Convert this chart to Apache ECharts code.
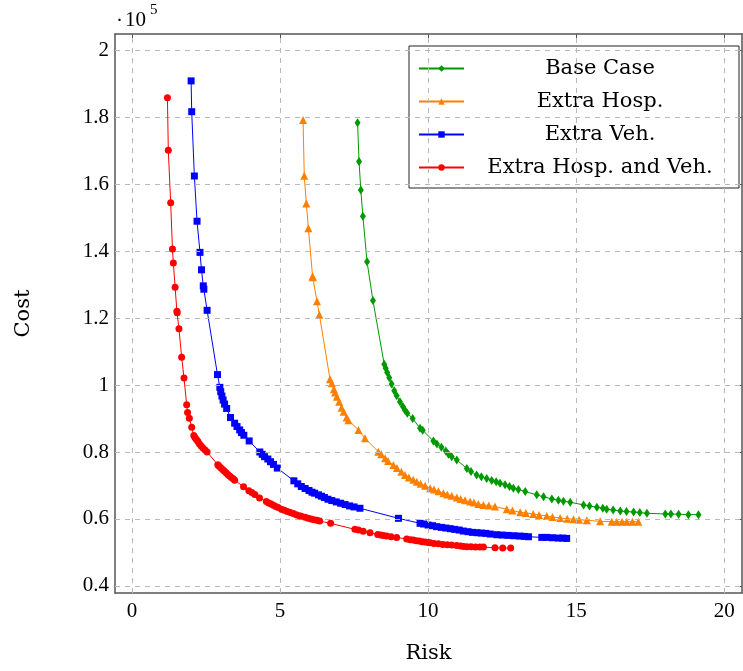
<!DOCTYPE html>
<html>
<head>
<meta charset="utf-8">
<script src="https://cdn.jsdelivr.net/npm/echarts@6/dist/echarts.min.js"></script>
<style>html,body{margin:0;padding:0;background:#fff}#c{width:743px;height:671px}</style>
</head>
<body>
<div id="c"></div>
<script>
// Tick values
const xTicks = [0, 5, 10, 15, 20];
const yTicks = [0.4, 0.6, 0.8, 1.0, 1.2, 1.4, 1.6, 1.8, 2.0];

// Base Case (risk, cost in units of 1e5)
const baseRisk = [7.62,7.67,7.73,7.80,7.94,8.14,8.52,8.57,8.62,8.69,8.77,8.86,8.94,9.05,9.15,9.22,9.30,9.48,9.73,9.82,10.18,10.30,10.45,10.60,10.69,10.80,10.97,11.31,11.45,11.64,11.80,11.98,12.15,12.30,12.43,12.60,12.75,12.88,13.05,13.28,13.67,13.90,14.18,14.40,14.57,14.80,15.25,15.45,15.70,15.90,16.03,16.25,16.49,16.70,16.94,17.15,17.39,18.01,18.20,18.46,18.79,19.13];
const baseCost = [1.783,1.667,1.582,1.504,1.368,1.252,1.062,1.050,1.037,1.022,1.003,0.983,0.968,0.950,0.936,0.925,0.916,0.900,0.871,0.865,0.833,0.824,0.814,0.803,0.793,0.786,0.776,0.751,0.742,0.731,0.726,0.721,0.715,0.711,0.707,0.702,0.697,0.692,0.688,0.682,0.672,0.666,0.660,0.656,0.653,0.650,0.642,0.639,0.635,0.632,0.629,0.627,0.624,0.622,0.621,0.619,0.617,0.615,0.615,0.614,0.613,0.613];

// Extra Hosp.
const hospRisk = [5.78,5.82,5.89,5.96,6.10,6.11,6.25,6.33,6.69,6.75,6.82,6.86,6.92,7.00,7.08,7.15,7.25,7.31,7.65,7.87,8.32,8.42,8.55,8.65,8.83,8.95,9.10,9.22,9.35,9.50,9.62,9.75,9.90,10.07,10.20,10.35,10.52,10.65,10.80,10.97,11.10,11.25,11.42,11.55,11.70,11.87,12.05,12.26,12.66,12.85,13.11,13.30,13.55,13.75,14.01,14.20,14.46,14.70,14.91,15.10,15.36,15.81,16.20,16.37,16.55,16.71,16.90,17.10];
const hospCost = [1.791,1.625,1.542,1.468,1.325,1.322,1.250,1.210,1.017,1.005,0.987,0.978,0.965,0.950,0.932,0.920,0.903,0.895,0.866,0.841,0.801,0.793,0.781,0.773,0.761,0.752,0.741,0.731,0.724,0.717,0.711,0.705,0.699,0.692,0.688,0.683,0.677,0.673,0.669,0.664,0.660,0.656,0.652,0.649,0.645,0.642,0.640,0.637,0.629,0.625,0.620,0.618,0.615,0.612,0.609,0.606,0.603,0.601,0.599,0.598,0.596,0.593,0.592,0.592,0.592,0.592,0.592,0.592];

// Extra Veh.
const vehRisk = [2.00,2.02,2.11,2.20,2.30,2.35,2.41,2.43,2.54,2.89,2.97,3.00,3.04,3.08,3.13,3.20,3.33,3.47,3.55,3.64,3.70,3.78,3.96,4.32,4.40,4.48,4.59,4.68,4.78,4.91,5.47,5.60,5.72,5.85,5.98,6.08,6.17,6.30,6.40,6.50,6.62,6.75,6.90,7.05,7.20,7.35,7.50,7.70,9.00,9.73,9.85,10.00,10.15,10.29,10.45,10.60,10.75,10.90,11.05,11.19,11.35,11.50,11.65,11.80,11.95,12.10,12.32,12.50,12.70,12.90,13.10,13.25,13.39,13.84,14.00,14.20,14.40,14.55,14.68];
const vehCost = [1.908,1.816,1.624,1.489,1.396,1.344,1.296,1.286,1.223,1.031,0.993,0.980,0.967,0.955,0.943,0.930,0.903,0.886,0.876,0.866,0.858,0.850,0.833,0.800,0.793,0.786,0.779,0.771,0.763,0.752,0.714,0.705,0.697,0.691,0.685,0.680,0.677,0.672,0.668,0.664,0.659,0.655,0.651,0.647,0.643,0.639,0.636,0.632,0.602,0.587,0.585,0.582,0.580,0.577,0.575,0.573,0.571,0.569,0.567,0.564,0.562,0.560,0.559,0.558,0.557,0.555,0.553,0.552,0.551,0.550,0.549,0.548,0.547,0.545,0.545,0.544,0.543,0.543,0.542];

// Extra Hosp. and Veh.
const bothRisk = [1.20,1.23,1.31,1.37,1.40,1.46,1.52,1.53,1.59,1.68,1.76,1.85,1.88,1.94,2.02,2.09,2.13,2.18,2.23,2.28,2.34,2.40,2.47,2.54,2.90,2.94,3.00,3.06,3.12,3.18,3.24,3.30,3.36,3.42,3.47,3.77,3.95,4.05,4.15,4.31,4.54,4.62,4.70,4.78,4.86,4.94,5.05,5.15,5.25,5.35,5.45,5.55,5.65,5.72,5.85,5.95,6.05,6.15,6.25,6.34,6.71,7.53,7.65,7.81,8.04,8.30,8.40,8.49,8.60,8.75,8.94,9.28,9.40,9.50,9.60,9.70,9.80,9.90,10.00,10.07,10.20,10.35,10.50,10.65,10.80,10.97,11.10,11.20,11.31,11.45,11.60,11.75,11.87,12.26,12.52,12.79];
const bothCost = [1.858,1.701,1.544,1.406,1.364,1.292,1.220,1.216,1.168,1.083,1.021,0.941,0.918,0.901,0.874,0.849,0.843,0.837,0.831,0.824,0.818,0.812,0.806,0.800,0.762,0.758,0.753,0.748,0.743,0.738,0.733,0.728,0.724,0.720,0.716,0.696,0.684,0.679,0.673,0.663,0.652,0.648,0.645,0.641,0.637,0.634,0.629,0.626,0.622,0.619,0.616,0.613,0.610,0.608,0.605,0.602,0.600,0.598,0.596,0.594,0.587,0.569,0.567,0.563,0.559,0.554,0.552,0.551,0.549,0.547,0.545,0.540,0.538,0.537,0.535,0.534,0.532,0.531,0.530,0.529,0.527,0.526,0.524,0.523,0.522,0.521,0.519,0.518,0.517,0.517,0.516,0.516,0.516,0.514,0.513,0.513];

const names = ['Base Case', 'Extra Hosp.', 'Extra Veh.', 'Extra Hosp. and Veh.'];
const colors = ['#009900', '#ff8000', '#0000ff', '#ff0000'];

function zip(a, b) { return a.map((v, i) => [v, b[i]]); }

const SERIF = 'DejaVu Serif';
const NUMF = 'Liberation Serif';
const axisColor = '#555';
const XMIN = -0.57, XMAX = 20.6, YMIN = 0.379, YMAX = 2.048;

const chart = echarts.init(document.getElementById('c'), null, {renderer: 'canvas'});

function fmt(v) { return String(+(+v).toFixed(1)); }

const gridLines = [];
xTicks.forEach(v => gridLines.push({xAxis: v}));
yTicks.forEach(v => gridLines.push({yAxis: v}));

const option = {
  animation: false,
  backgroundColor: '#fff',
  grid: {left: 115, right: 1, top: 34, bottom: 78, containLabel: false},
  xAxis: [{
    type: 'value', min: XMIN, max: XMAX, position: 'bottom',
    name: 'Risk', nameLocation: 'middle', nameGap: 50,
    nameTextStyle: {fontFamily: SERIF, fontSize: 21, color: '#000'},
    axisLine: {show: true, onZero: false, lineStyle: {color: axisColor, width: 1.5}},
    axisTick: {show: true, inside: true, length: 5, customValues: xTicks, lineStyle: {color: axisColor}},
    axisLabel: {customValues: xTicks, formatter: fmt, fontFamily: NUMF, fontSize: 21, color: '#000', margin: 8},
    splitLine: {show: false}
  }, {
    type: 'value', min: XMIN, max: XMAX, position: 'top',
    axisLine: {show: true, onZero: false, lineStyle: {color: axisColor, width: 1.5}},
    axisTick: {show: true, inside: true, length: 5, customValues: xTicks, lineStyle: {color: axisColor}},
    axisLabel: {show: false},
    splitLine: {show: false}
  }],
  yAxis: [{
    type: 'value', min: YMIN, max: YMAX, position: 'left',
    name: 'Cost', nameLocation: 'middle', nameGap: 81, nameRotate: 90,
    nameTextStyle: {fontFamily: SERIF, fontSize: 21, color: '#000'},
    axisLine: {show: true, onZero: false, lineStyle: {color: axisColor, width: 1.5}},
    axisTick: {show: true, inside: true, length: 5, customValues: yTicks, lineStyle: {color: axisColor}},
    axisLabel: {customValues: yTicks, formatter: fmt, fontFamily: NUMF, fontSize: 21, color: '#000', margin: 6},
    splitLine: {show: false}
  }, {
    type: 'value', min: YMIN, max: YMAX, position: 'right',
    axisLine: {show: true, onZero: false, lineStyle: {color: axisColor, width: 1.5}},
    axisTick: {show: true, inside: true, length: 5, customValues: yTicks, lineStyle: {color: axisColor}},
    axisLabel: {show: false},
    splitLine: {show: false}
  }],
  legend: {
    data: names,
    orient: 'vertical',
    right: 4, top: 46,
    backgroundColor: '#fff',
    borderColor: '#222', borderWidth: 1, borderRadius: 0,
    padding: [12, 8, 10, 9],
    itemGap: 12, itemWidth: 45, itemHeight: 8,
    formatter: function (name) { return '{t|' + name + '}'; },
    textStyle: {
      fontFamily: SERIF, fontSize: 21, color: '#000',
      rich: {t: {fontFamily: SERIF, fontSize: 21, color: '#000', lineHeight: 25, width: 262, align: 'center'}}
    },
    selectedMode: false
  },
  graphic: [
    {type: 'text', left: 116, top: 11, z: 10, style: {text: '·', fontFamily: NUMF, fontSize: 21, fill: '#000'}},
    {type: 'text', left: 125, top: 10, z: 10, style: {text: '10', fontFamily: NUMF, fontSize: 21, fill: '#000'}},
    {type: 'text', left: 150, top: 3, z: 10, style: {text: '5', fontFamily: NUMF, fontSize: 15, fill: '#000'}}
  ],
  series: [
    {
      name: '_grid', type: 'line', data: [], silent: true, z: 0,
      markLine: {
        silent: true, symbol: 'none', animation: false,
        label: {show: false},
        lineStyle: {type: [5, 5], color: '#b8b8b8', width: 1},
        emphasis: {disabled: true},
        data: gridLines
      }
    },
    {
      name: names[0], type: 'line', data: zip(baseRisk, baseCost), color: colors[0],
      symbol: 'diamond', symbolSize: [6, 9], showAllSymbol: true,
      lineStyle: {width: 1}, itemStyle: {color: colors[0]}, z: 2
    },
    {
      name: names[1], type: 'line', data: zip(hospRisk, hospCost), color: colors[1],
      symbol: 'triangle', symbolSize: 8, showAllSymbol: true,
      lineStyle: {width: 1}, itemStyle: {color: colors[1]}, z: 3
    },
    {
      name: names[2], type: 'line', data: zip(vehRisk, vehCost), color: colors[2],
      symbol: 'rect', symbolSize: 7, showAllSymbol: true,
      lineStyle: {width: 1}, itemStyle: {color: colors[2]}, z: 4
    },
    {
      name: names[3], type: 'line', data: zip(bothRisk, bothCost), color: colors[3],
      symbol: 'circle', symbolSize: 7, showAllSymbol: true,
      lineStyle: {width: 1}, itemStyle: {color: colors[3]}, z: 5
    }
  ]
};
chart.setOption(option);
</script>
</body>
</html>
